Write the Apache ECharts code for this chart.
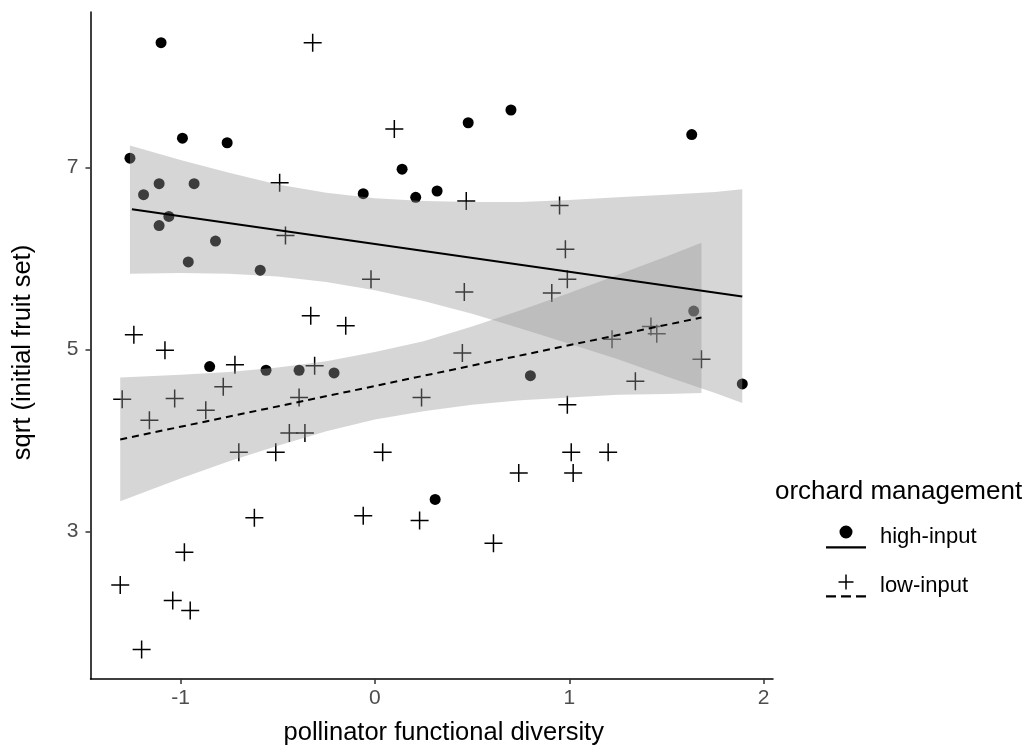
<!DOCTYPE html>
<html>
<head>
<meta charset="utf-8">
<title>fruit set vs pollinator functional diversity</title>
<script src="https://cdn.jsdelivr.net/npm/echarts@6/dist/echarts.min.js"></script>
<style>
  html, body { margin: 0; padding: 0; background: #fff; }
  #echarts_main { width: 1027px; height: 747px; }
</style>
</head>
<body>
<div id="echarts_main"></div>
<script>
// 高投入果园 (high-input) 散点
var highX = [-1.10, -0.99, -0.76, -1.26, -1.11, -0.93, -1.19, -1.06, -1.11, -0.82, -0.96, -0.59, -0.06, 0.14,
             0.21, 0.32, 0.48, 0.70, 1.63, -0.85, -0.56, -0.39, -0.21, 0.80, 1.64, 1.89, 0.31];
var highY = [8.37, 7.32, 7.27, 7.10, 6.82, 6.82, 6.70, 6.46, 6.36, 6.19, 5.96, 5.87, 6.71, 6.98,
             6.67, 6.74, 7.49, 7.63, 7.36, 4.81, 4.77, 4.77, 4.74, 4.71, 5.42, 4.62, 3.35];

// 低投入果园 (low-input) 散点
var lowX = [-0.32, 0.10, -0.49, 0.47, 0.95, -0.46, 0.98, -0.02, 0.99, 0.46, 0.91, -0.33, -0.15, -1.24, 1.42,
            1.45, 1.22, -1.08, 0.45, 1.68, -0.72, -0.31, 1.34, -0.78, -1.30, -1.03, -0.39, 0.24, -0.87, 0.99,
            -1.16, -0.44, -0.36, -0.70, -0.51, 0.04, 1.01, 1.20, 0.74, 1.02, -0.62, -0.06, 0.23, 0.61, -0.98,
            -1.31, -1.04, -0.95, -1.20];
var lowY = [8.37, 7.42, 6.83, 6.63, 6.58, 6.25, 6.10, 5.77, 5.77, 5.63, 5.62, 5.37, 5.26, 5.16, 5.25,
            5.17, 5.11, 4.99, 4.96, 4.89, 4.83, 4.82, 4.65, 4.59, 4.45, 4.46, 4.47, 4.47, 4.33, 4.39,
            4.22, 4.08, 4.08, 3.87, 3.87, 3.87, 3.87, 3.87, 3.64, 3.64, 3.15, 3.17, 3.12, 2.87, 2.77,
            2.41, 2.24, 2.13, 1.70];

// 回归线
var highLineX = [-1.25, 1.89];
var highLineY = [6.54, 5.58];
var lowLineX = [-1.31, 1.68];
var lowLineY = [4.01, 5.35];

// 置信区间
var highBandX = [-1.26, -1.0, -0.75, -0.5, -0.25, 0, 0.25, 0.5, 0.75, 1.0, 1.25, 1.5, 1.75, 1.89];
var highUpper = [7.24, 7.08, 6.94, 6.81, 6.72, 6.66, 6.63, 6.62, 6.62, 6.64, 6.67, 6.70, 6.73, 6.76];
var highLower = [5.83, 5.84, 5.83, 5.80, 5.74, 5.65, 5.53, 5.39, 5.23, 5.06, 4.89, 4.70, 4.52, 4.41];
var lowBandX = [-1.31, -1.0, -0.75, -0.5, -0.25, 0, 0.25, 0.5, 0.75, 1.0, 1.25, 1.5, 1.68];
var lowUpper = [4.69, 4.72, 4.75, 4.80, 4.87, 4.97, 5.09, 5.25, 5.43, 5.62, 5.82, 6.02, 6.17];
var lowLower = [3.33, 3.58, 3.77, 3.94, 4.10, 4.23, 4.32, 4.39, 4.44, 4.47, 4.50, 4.51, 4.52];

// 刻度
var xTicks = [-1, 0, 1, 2];
var yTicks = [3, 5, 7];

var FONT = "'Liberation Sans', Arial, sans-serif";
var CROSS = 'path://M8.25,0h1.5v18h-1.5Z M0,8.25h18v1.5h-18Z';
var ICON_HIGH = 'path://M13.5,6.5a6.5,6.5 0 1,0 13,0a6.5,6.5 0 1,0 -13,0Z M0,20.8h40v2.2h-40Z';
var ICON_LOW = 'path://M19.25,0h1.5v15h-1.5Z M12.5,6.75h15v1.5h-15Z M0,20.8h10v2.2h-10Z M15,20.8h10v2.2h-10Z M30,20.8h10v2.2h-10Z';

function pairs(xs, ys) {
  var out = [];
  for (var i = 0; i < xs.length; i++) out.push([xs[i], ys[i]]);
  return out;
}

// 用坐标轴把上下边界换算成多边形
function bandRenderer(bx, up, lo) {
  return function (params, api) {
    var pts = [];
    for (var i = 0; i < bx.length; i++) pts.push(api.coord([bx[i], up[i]]));
    for (var j = bx.length - 1; j >= 0; j--) pts.push(api.coord([bx[j], lo[j]]));
    return {
      type: 'polygon',
      shape: { points: pts },
      style: { fill: 'rgba(153,153,153,0.4)' },
      silent: true
    };
  };
}

var myChart = echarts.init(document.getElementById('echarts_main'));

var option = {
  animation: false,
  backgroundColor: '#ffffff',
  textStyle: { fontFamily: FONT },
  grid: {
    left: 90.5, top: 12, width: 682.5, height: 667,
    containLabel: false, outerBoundsMode: 'none'
  },
  legend: {
    orient: 'vertical',
    left: 826, top: 525.5,
    itemWidth: 40, itemHeight: 23, itemGap: 26,
    padding: 0,
    selectedMode: false,
    textStyle: { fontSize: 22, color: '#000', fontFamily: FONT, padding: [0, 0, 0, 9] },
    data: [
      { name: 'high-input', icon: ICON_HIGH },
      { name: 'low-input', icon: ICON_LOW }
    ]
  },
  graphic: [{
    type: 'text',
    left: 775, top: 479,
    style: { text: 'orchard management', fontSize: 26, fill: '#000', fontFamily: FONT }
  }],
  xAxis: {
    type: 'value',
    min: -1.463, max: 2.048,
    name: 'pollinator functional diversity',
    nameLocation: 'middle', nameGap: 41,
    nameTextStyle: { fontSize: 25.5, color: '#000', fontFamily: FONT, padding: [0, 0, 0, 24] },
    axisLine: { show: true, onZero: false, lineStyle: { color: '#000', width: 1.5 } },
    axisTick: { show: true, customValues: xTicks, length: 5, lineStyle: { color: '#333', width: 1.5 } },
    axisLabel: { customValues: xTicks, fontSize: 21, color: '#4d4d4d', margin: 9, fontFamily: FONT },
    splitLine: { show: false }
  },
  yAxis: {
    type: 'value',
    min: 1.377, max: 8.707,
    name: 'sqrt (initial fruit set)',
    nameLocation: 'middle', nameGap: 55, nameRotate: 90,
    nameTextStyle: { fontSize: 25.5, color: '#000', fontFamily: FONT, padding: [0, 14, 0, 0] },
    axisLine: { show: true, onZero: false, lineStyle: { color: '#000', width: 1.5 } },
    axisTick: { show: true, customValues: yTicks, length: 5, lineStyle: { color: '#333', width: 1.5 } },
    axisLabel: { customValues: yTicks, fontSize: 21, color: '#4d4d4d', margin: 12, fontFamily: FONT },
    splitLine: { show: false }
  },
  series: [
    {
      name: 'high-input', type: 'scatter', z: 2,
      symbol: 'circle', symbolSize: 11,
      itemStyle: { color: '#000', opacity: 1 },
      data: pairs(highX, highY)
    },
    {
      name: 'low-input', type: 'scatter', z: 2,
      symbol: CROSS, symbolSize: 18,
      itemStyle: { color: '#000', opacity: 1 },
      data: pairs(lowX, lowY)
    },
    {
      name: 'high band', type: 'custom', z: 3, silent: true,
      renderItem: bandRenderer(highBandX, highUpper, highLower),
      data: [[highBandX[0], highLower[0]]]
    },
    {
      name: 'low band', type: 'custom', z: 3, silent: true,
      renderItem: bandRenderer(lowBandX, lowUpper, lowLower),
      data: [[lowBandX[0], lowLower[0]]]
    },
    {
      name: 'high fit', type: 'line', z: 4, silent: true,
      symbol: 'none',
      lineStyle: { color: '#000', width: 2 },
      data: pairs(highLineX, highLineY)
    },
    {
      name: 'low fit', type: 'line', z: 4, silent: true,
      symbol: 'none',
      lineStyle: { color: '#000', width: 2, type: [7, 5] },
      data: pairs(lowLineX, lowLineY)
    }
  ]
};

myChart.setOption(option);
</script>
</body>
</html>
